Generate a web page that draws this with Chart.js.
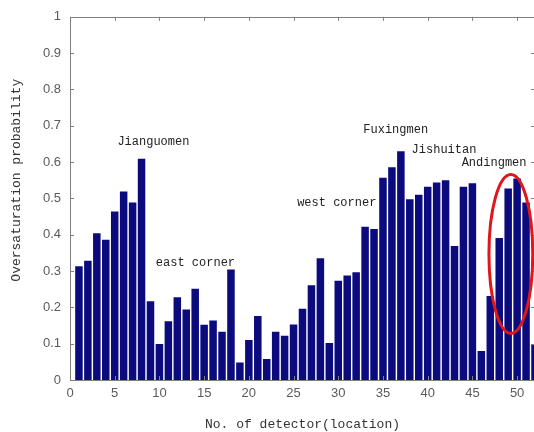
<!DOCTYPE html>
<html>
<head>
<meta charset="utf-8">
<script src="https://cdn.jsdelivr.net/npm/chart.js@4"></script>
<style>
  html, body { margin: 0; padding: 0; background: #fff; overflow: hidden; }
  #wrap { width: 540px; height: 432px; }
</style>
</head>
<body>
<div id="wrap"><canvas id="chart" width="540" height="432"></canvas></div>
<script>
// detector number (location) and oversaturation probability
const detectors = [
  1, 2, 3, 4, 5, 6, 7, 8, 9, 10, 11, 12, 13, 14, 15, 16, 17, 18, 19, 20,
  21, 22, 23, 24, 25, 26, 27, 28, 29, 30, 31, 32, 33, 34, 35, 36, 37, 38, 39, 40,
  41, 42, 43, 44, 45, 46, 47, 48, 49, 50, 51, 52,
];
const probability = [
  0.313, 0.328, 0.404, 0.386, 0.464, 0.519, 0.489, 0.609, 0.217, 0.099,
  0.162, 0.228, 0.194, 0.251, 0.152, 0.164, 0.133, 0.304, 0.048, 0.110,
  0.176, 0.058, 0.133, 0.122, 0.153, 0.196, 0.261, 0.335, 0.102, 0.273,
  0.288, 0.297, 0.422, 0.416, 0.557, 0.586, 0.630, 0.498, 0.510, 0.532,
  0.544, 0.550, 0.369, 0.532, 0.542, 0.080, 0.231, 0.391, 0.527, 0.555,
  0.489, 0.098,
];
const xTicks = [0, 5, 10, 15, 20, 25, 30, 35, 40, 45, 50];
const yTicks = [0, 0.1, 0.2, 0.3, 0.4, 0.5, 0.6, 0.7, 0.8, 0.9, 1];

// place names written over the bars, positions in data units
const placeNames = ['Jianguomen', 'east corner', 'west corner', 'Fuxingmen', 'Jishuitan', 'Andingmen'];
const placeX = [5.3, 9.6, 25.4, 32.8, 38.2, 43.8];
const placeY = [0.655, 0.323, 0.487, 0.690, 0.635, 0.597];

// red ring around detectors 48-51
const ringCenter = [49.3, 0.347];
const ringRadius = [2.45, 0.219];

const yTitle = 'Oversaturation probability';
const AXIS = '#808080';
const TXT = '#5a5a5a';

const boxAndMarks = {
  id: 'boxAndMarks',
  afterDatasetsDraw(chart) {
    const { ctx, chartArea: a, scales: { x, y } } = chart;
    ctx.save();
    // box
    ctx.strokeStyle = AXIS;
    ctx.lineWidth = 1;
    ctx.strokeRect(Math.round(a.left) + 0.5, Math.round(a.top) + 0.5,
      Math.round(a.right - a.left), Math.round(a.bottom - a.top));
    // inward ticks
    ctx.beginPath();
    yTicks.forEach((v) => {
      const py = Math.round(y.getPixelForValue(v)) + 0.5;
      ctx.moveTo(a.left, py); ctx.lineTo(a.left + 4, py);
      ctx.moveTo(a.right, py); ctx.lineTo(a.right - 4, py);
    });
    xTicks.forEach((v) => {
      const px = Math.round(x.getPixelForValue(v)) + 0.5;
      ctx.moveTo(px, a.bottom); ctx.lineTo(px, a.bottom - 4);
      ctx.moveTo(px, a.top); ctx.lineTo(px, a.top + 4);
    });
    ctx.stroke();

    // place names
    ctx.fillStyle = '#222';
    ctx.font = '12px "Liberation Mono", monospace';
    ctx.textBaseline = 'middle';
    ctx.textAlign = 'left';
    placeNames.forEach((t, i) => {
      ctx.fillText(t, x.getPixelForValue(placeX[i]), y.getPixelForValue(placeY[i]));
    });

    // y title, a bit above the middle of the axis as in the figure
    ctx.save();
    ctx.translate(17, y.getPixelForValue(0.55));
    ctx.rotate(-Math.PI / 2);
    ctx.textAlign = 'center';
    ctx.fillStyle = '#333';
    ctx.font = '13px "Liberation Mono", monospace';
    ctx.fillText(yTitle, 0, 0);
    ctx.restore();

    // ring
    const cx = x.getPixelForValue(ringCenter[0]);
    const cy = y.getPixelForValue(ringCenter[1]);
    const rx = Math.abs(x.getPixelForValue(ringCenter[0] + ringRadius[0]) - cx);
    const ry = Math.abs(y.getPixelForValue(ringCenter[1] + ringRadius[1]) - cy);
    ctx.strokeStyle = '#e0161b';
    ctx.lineWidth = 3;
    ctx.beginPath();
    ctx.ellipse(cx, cy, rx, ry, 0, 0, Math.PI * 2);
    ctx.stroke();
    ctx.restore();
  },
};

new Chart(document.getElementById('chart'), {
  type: 'bar',
  data: {
    datasets: [{
      data: detectors.map((d, i) => ({ x: d, y: probability[i] })),
      backgroundColor: '#0b0b7e',
      borderWidth: 0,
      barPercentage: 0.84,
      categoryPercentage: 1,
    }],
  },
  options: {
    responsive: false,
    animation: false,
    devicePixelRatio: 1,
    layout: { padding: { top: 15, right: 5, left: 0, bottom: 0 } },
    plugins: { legend: { display: false }, tooltip: { enabled: false } },
    scales: {
      x: {
        type: 'linear',
        min: 0,
        max: 52,
        offset: false,
        grid: { display: false, drawTicks: false },
        border: { display: false },
        afterBuildTicks: (s) => { s.ticks = xTicks.map((v) => ({ value: v })); },
        afterFit: (s) => { s.height = 52; },
        ticks: {
          color: TXT,
          padding: 6,
          maxRotation: 0,
          font: { family: '"Liberation Sans", Arial, sans-serif', size: 13 },
        },
        title: {
          display: true,
          text: 'No. of detector(location)',
          color: '#333',
          padding: { top: 4, bottom: 0 },
          font: { family: '"Liberation Mono", monospace', size: 13 },
        },
      },
      y: {
        min: 0,
        max: 1,
        grid: { display: false, drawTicks: false },
        border: { display: false },
        afterBuildTicks: (s) => { s.ticks = yTicks.map((v) => ({ value: v })); },
        afterFit: (s) => { s.width = 70; },
        ticks: {
          color: TXT,
          padding: 9,
          callback: (v) => String(+Number(v).toFixed(1)),
          font: { family: '"Liberation Sans", Arial, sans-serif', size: 13 },
        },
      },
    },
  },
  plugins: [boxAndMarks],
});
</script>
</body>
</html>
